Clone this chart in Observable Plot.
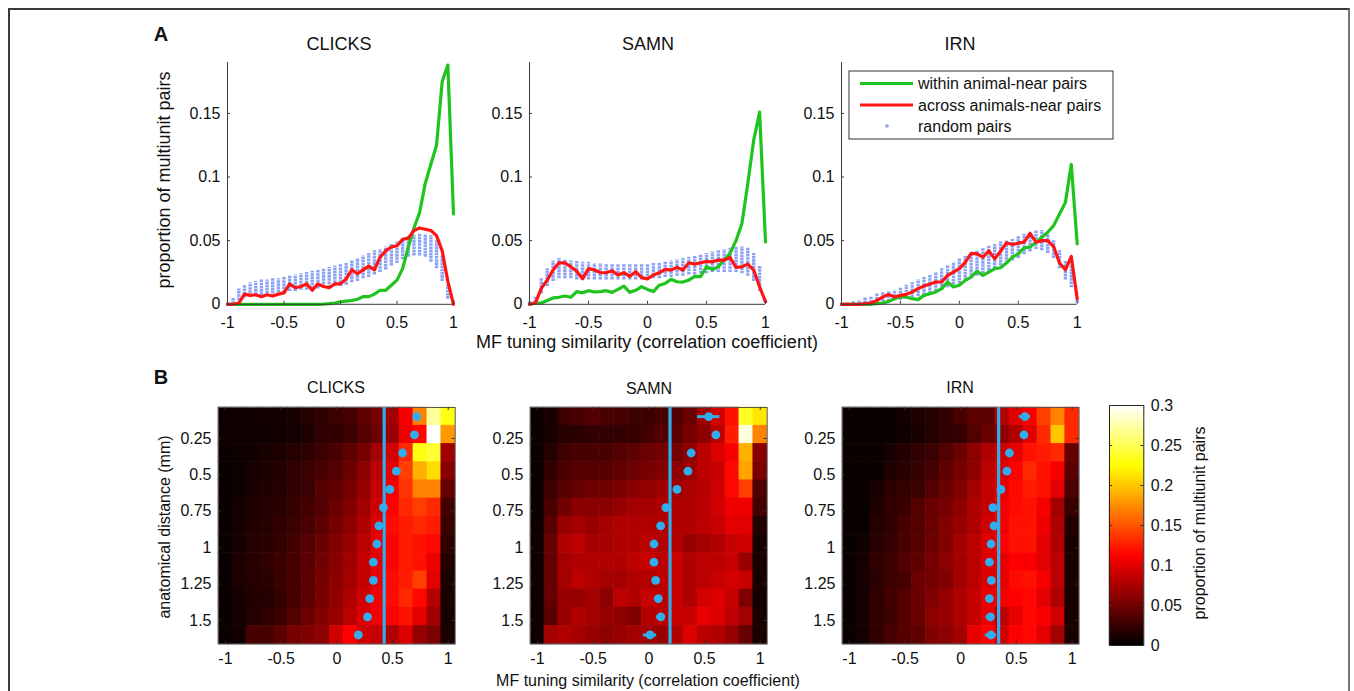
<!DOCTYPE html>
<html><head><meta charset="utf-8">
<script src="https://cdn.jsdelivr.net/npm/d3@7"></script>
<script src="https://cdn.jsdelivr.net/npm/@observablehq/plot@0.6"></script>
<style>
body{margin:0;background:#fff;}
#fig{position:relative;width:1354px;height:691px;overflow:hidden;font-family:"Liberation Sans",Arial,sans-serif;color:#111;background:#fff;}
#frame{position:absolute;left:8px;top:8px;width:1342px;height:700px;border:2px solid #3a3a3a;border-right-color:#777;box-sizing:border-box;}
.lbl{position:absolute;white-space:nowrap;transform:translate(-50%,-50%);line-height:1;}
.rot{transform:translate(-50%,-50%) rotate(-90deg);}
.panel{position:absolute;}
</style></head><body><div id="fig"><div id="frame"></div></div>
<script>
// ---------- DATA ----------
const xGrid = [-1,-0.95,-0.9,-0.85,-0.8,-0.75,-0.7,-0.65,-0.6,-0.55,-0.5,-0.45,-0.4,-0.35,-0.3,-0.25,-0.2,-0.15,-0.1,-0.05,0,0.05,0.1,0.15,0.2,0.25,0.3,0.35,0.4,0.45,0.5,0.55,0.6,0.65,0.7,0.75,0.8,0.85,0.9,0.95,1];

const clicksWithin = [0,0,0,0,0,0,0,0,0,0,0,0,0,0,0,0,0,0.0002,0.0005,0.001,0.002,0.0025,0.003,0.004,0.006,0.006,0.008,0.011,0.011,0.015,0.019,0.028,0.045,0.06,0.072,0.095,0.11,0.125,0.175,0.188,0.071];
const clicksAcross = [0,0,0.001,0.008,0.007,0.0075,0.006,0.0075,0.0065,0.008,0.009,0.016,0.013,0.014,0.016,0.011,0.016,0.014,0.013,0.016,0.016,0.02,0.027,0.024,0.027,0.03,0.027,0.037,0.042,0.045,0.046,0.051,0.052,0.058,0.06,0.059,0.058,0.054,0.042,0.018,0];
const clicksRandLo = [0,0,0.003,0.005,0.006,0.007,0.007,0.008,0.008,0.009,0.009,0.010,0.010,0.011,0.011,0.012,0.012,0.013,0.013,0.014,0.014,0.015,0.017,0.018,0.020,0.021,0.023,0.025,0.027,0.030,0.032,0.035,0.037,0.038,0.038,0.037,0.033,0.028,0.018,0.004,0];
const clicksRandHi = [0.001,0.005,0.012,0.015,0.017,0.018,0.019,0.019,0.020,0.020,0.021,0.022,0.023,0.024,0.025,0.026,0.027,0.028,0.029,0.030,0.031,0.032,0.034,0.036,0.038,0.040,0.042,0.043,0.045,0.047,0.049,0.051,0.053,0.054,0.055,0.055,0.054,0.050,0.038,0.015,0.003];

const samnWithin = [0,0.001,0.001,0.003,0.005,0.0055,0.0065,0.0055,0.01,0.009,0.0107,0.0097,0.01,0.0107,0.0094,0.0117,0.0143,0.0094,0.011,0.0138,0.0117,0.01,0.015,0.0164,0.0196,0.0177,0.0175,0.019,0.022,0.0217,0.0295,0.0274,0.0295,0.0347,0.04,0.05,0.0634,0.095,0.129,0.151,0.049];
const samnAcross = [0,0.001,0.0125,0.019,0.027,0.0326,0.0326,0.0295,0.026,0.02,0.028,0.027,0.025,0.0248,0.0263,0.023,0.0248,0.022,0.0256,0.021,0.02,0.023,0.0248,0.0274,0.0269,0.029,0.0269,0.0326,0.0316,0.0326,0.0337,0.0334,0.0347,0.0347,0.0368,0.029,0.0295,0.0316,0.0269,0.0138,0.002];
const samnRandLo = [0,0.001,0.008,0.014,0.018,0.020,0.020,0.020,0.019,0.019,0.019,0.019,0.019,0.019,0.019,0.019,0.019,0.019,0.019,0.019,0.019,0.020,0.020,0.021,0.021,0.022,0.022,0.023,0.023,0.024,0.024,0.025,0.025,0.025,0.025,0.025,0.024,0.022,0.018,0.010,0.001];
const samnRandHi = [0.002,0.006,0.020,0.028,0.034,0.036,0.035,0.034,0.034,0.033,0.033,0.032,0.032,0.031,0.031,0.031,0.031,0.031,0.031,0.031,0.031,0.032,0.032,0.033,0.034,0.035,0.036,0.037,0.038,0.039,0.040,0.041,0.042,0.043,0.044,0.045,0.045,0.044,0.040,0.030,0.004];

const irnWithin = [0,0,0,0,0,0,0.0005,0.001,0.0023,0.0044,0.006,0.0057,0.0044,0.0037,0.007,0.0083,0.0097,0.0123,0.0175,0.0136,0.0149,0.0188,0.0214,0.026,0.0227,0.0253,0.028,0.0287,0.0324,0.037,0.0397,0.0444,0.0449,0.0488,0.0527,0.0566,0.0618,0.071,0.08,0.11,0.0475];
const irnAcross = [0,0,0,0,0.0005,0.001,0.003,0.0057,0.0078,0.0057,0.007,0.0078,0.0097,0.0123,0.0143,0.016,0.0175,0.0175,0.0227,0.0253,0.028,0.033,0.04,0.0397,0.037,0.042,0.0357,0.0417,0.0483,0.047,0.048,0.0488,0.0558,0.0488,0.05,0.05,0.0454,0.0324,0.0271,0.0376,0.0044];
const irnRandLo = [0,0,0,0,0.0005,0.001,0.001,0.002,0.002,0.003,0.003,0.004,0.005,0.006,0.007,0.008,0.010,0.011,0.013,0.015,0.016,0.018,0.020,0.022,0.024,0.026,0.028,0.030,0.032,0.034,0.036,0.039,0.041,0.043,0.042,0.040,0.036,0.028,0.019,0.013,0.001];
const irnRandHi = [0.0005,0.001,0.002,0.003,0.005,0.006,0.008,0.009,0.010,0.011,0.013,0.015,0.017,0.019,0.021,0.023,0.025,0.028,0.030,0.033,0.036,0.038,0.040,0.042,0.044,0.046,0.047,0.049,0.050,0.051,0.053,0.055,0.056,0.058,0.058,0.055,0.050,0.042,0.034,0.030,0.004];

// heat map bins
const heatX = [-1,-0.875,-0.75,-0.625,-0.5,-0.375,-0.25,-0.125,0,0.125,0.25,0.375,0.5,0.625,0.75,0.875,1];
const distY = [0.1,0.225,0.35,0.475,0.6,0.725,0.85,0.975,1.1,1.225,1.35,1.475,1.6];

const clicksHeat = [
 [0.006,0.006,0.007,0.008,0.009,0.011,0.016,0.021,0.026,0.031,0.041,0.052,0.072,0.110,0.170,0.270,0.230],
 [0.006,0.006,0.006,0.007,0.008,0.009,0.013,0.021,0.021,0.026,0.036,0.047,0.067,0.105,0.115,0.300,0.180],
 [0.005,0.006,0.007,0.011,0.013,0.016,0.021,0.026,0.032,0.042,0.052,0.072,0.092,0.130,0.230,0.240,0.070],
 [0.005,0.006,0.011,0.013,0.016,0.021,0.026,0.032,0.037,0.047,0.062,0.082,0.102,0.140,0.190,0.210,0.060],
 [0.005,0.006,0.011,0.014,0.016,0.021,0.027,0.037,0.042,0.052,0.067,0.087,0.107,0.135,0.170,0.170,0.045],
 [0.005,0.009,0.013,0.016,0.019,0.023,0.030,0.037,0.047,0.057,0.072,0.092,0.112,0.130,0.140,0.130,0.030],
 [0.005,0.011,0.014,0.017,0.021,0.026,0.032,0.042,0.052,0.062,0.077,0.097,0.117,0.125,0.130,0.125,0.025],
 [0.005,0.011,0.016,0.019,0.023,0.029,0.037,0.047,0.057,0.067,0.082,0.102,0.112,0.125,0.120,0.115,0.020],
 [0.005,0.013,0.017,0.021,0.026,0.031,0.040,0.050,0.060,0.070,0.087,0.102,0.112,0.125,0.120,0.105,0.015],
 [0.005,0.013,0.016,0.019,0.026,0.031,0.042,0.052,0.062,0.072,0.087,0.102,0.117,0.125,0.140,0.100,0.012],
 [0.004,0.011,0.014,0.016,0.023,0.031,0.042,0.052,0.064,0.077,0.092,0.107,0.117,0.130,0.115,0.080,0.012],
 [0.004,0.011,0.016,0.021,0.026,0.036,0.047,0.057,0.067,0.082,0.097,0.107,0.112,0.120,0.100,0.070,0.010],
 [0.004,0.008,0.031,0.031,0.041,0.052,0.057,0.062,0.092,0.112,0.092,0.087,0.077,0.097,0.065,0.055,0.012]
];
const samnHeat = [
 [0.005,0.011,0.027,0.032,0.037,0.032,0.032,0.027,0.027,0.032,0.037,0.047,0.072,0.092,0.120,0.235,0.215],
 [0.005,0.011,0.017,0.020,0.022,0.022,0.022,0.024,0.030,0.037,0.042,0.052,0.062,0.082,0.125,0.290,0.170],
 [0.005,0.016,0.027,0.032,0.032,0.032,0.037,0.042,0.047,0.052,0.052,0.063,0.083,0.097,0.110,0.190,0.060],
 [0.005,0.022,0.033,0.038,0.038,0.038,0.043,0.048,0.053,0.058,0.063,0.068,0.083,0.088,0.115,0.185,0.055],
 [0.005,0.027,0.038,0.044,0.049,0.049,0.054,0.060,0.065,0.070,0.070,0.076,0.081,0.090,0.115,0.140,0.035],
 [0.005,0.033,0.050,0.061,0.061,0.061,0.066,0.072,0.072,0.077,0.077,0.077,0.082,0.092,0.105,0.105,0.030],
 [0.006,0.039,0.067,0.073,0.067,0.073,0.078,0.078,0.078,0.078,0.078,0.078,0.083,0.088,0.100,0.100,0.015],
 [0.006,0.044,0.078,0.083,0.073,0.073,0.078,0.078,0.083,0.078,0.078,0.067,0.073,0.078,0.088,0.092,0.010],
 [0.006,0.044,0.073,0.078,0.078,0.078,0.078,0.083,0.088,0.083,0.088,0.078,0.083,0.083,0.088,0.067,0.010],
 [0.006,0.044,0.073,0.083,0.078,0.073,0.073,0.078,0.078,0.083,0.088,0.078,0.083,0.088,0.093,0.088,0.010],
 [0.006,0.044,0.067,0.067,0.073,0.062,0.083,0.078,0.088,0.083,0.088,0.078,0.093,0.098,0.088,0.056,0.008],
 [0.006,0.039,0.067,0.078,0.073,0.067,0.062,0.056,0.078,0.083,0.088,0.088,0.103,0.098,0.083,0.072,0.010],
 [0.006,0.072,0.078,0.073,0.067,0.062,0.067,0.073,0.073,0.067,0.078,0.098,0.083,0.078,0.067,0.045,0.010]
];
const irnHeat = [
 [0.004,0.004,0.004,0.004,0.009,0.013,0.016,0.021,0.031,0.041,0.041,0.080,0.100,0.110,0.140,0.170,0.130],
 [0.004,0.004,0.004,0.005,0.007,0.011,0.016,0.021,0.023,0.036,0.046,0.062,0.077,0.100,0.130,0.200,0.130],
 [0.004,0.004,0.005,0.011,0.016,0.021,0.026,0.036,0.047,0.062,0.077,0.092,0.102,0.120,0.125,0.130,0.045],
 [0.004,0.004,0.005,0.013,0.019,0.023,0.031,0.042,0.052,0.062,0.082,0.097,0.112,0.130,0.120,0.110,0.040],
 [0.004,0.004,0.011,0.019,0.023,0.026,0.037,0.047,0.057,0.072,0.087,0.102,0.117,0.125,0.120,0.100,0.035],
 [0.004,0.004,0.013,0.021,0.026,0.037,0.047,0.052,0.062,0.077,0.087,0.107,0.117,0.120,0.110,0.072,0.025],
 [0.004,0.005,0.016,0.021,0.031,0.037,0.047,0.057,0.067,0.077,0.092,0.107,0.120,0.120,0.105,0.077,0.015],
 [0.004,0.007,0.016,0.023,0.031,0.037,0.047,0.057,0.072,0.082,0.097,0.112,0.120,0.120,0.100,0.077,0.012],
 [0.004,0.011,0.021,0.026,0.037,0.042,0.052,0.062,0.072,0.082,0.097,0.102,0.112,0.110,0.100,0.082,0.012],
 [0.004,0.011,0.019,0.026,0.031,0.047,0.052,0.057,0.072,0.082,0.097,0.102,0.117,0.120,0.110,0.082,0.012],
 [0.004,0.011,0.021,0.029,0.037,0.047,0.057,0.067,0.077,0.087,0.102,0.107,0.112,0.115,0.100,0.077,0.012],
 [0.004,0.009,0.021,0.026,0.037,0.047,0.062,0.067,0.077,0.087,0.102,0.082,0.102,0.115,0.110,0.092,0.012],
 [0.004,0.009,0.021,0.031,0.037,0.042,0.057,0.062,0.072,0.102,0.112,0.092,0.112,0.115,0.100,0.072,0.012]
];

// mean tuning similarity per distance bin, error half-widths, overall mean
const clicksMean = [0.717,0.697,0.59,0.534,0.476,0.418,0.377,0.36,0.328,0.328,0.295,0.275,0.193];
const clicksErr  = [0.02,0.015,0.015,0.015,0.015,0.015,0.015,0.015,0.015,0.015,0.015,0.015,0.015];
const clicksOverall = 0.425;
const samnMean = [0.537,0.602,0.38,0.351,0.253,0.153,0.106,0.046,0.046,0.061,0.085,0.108,0.011];
const samnErr  = [0.1,0.02,0.02,0.02,0.02,0.03,0.02,0.02,0.02,0.02,0.03,0.04,0.06];
const samnOverall = 0.19;
const irnMean = [0.576,0.567,0.437,0.414,0.36,0.289,0.298,0.271,0.257,0.274,0.257,0.266,0.271];
const irnErr  = [0.05,0.02,0.02,0.02,0.02,0.02,0.02,0.02,0.02,0.02,0.03,0.04,0.05];
const irnOverall = 0.34;

const topXTicks = [-1,-0.5,0,0.5,1];
const topYTicks = [0,0.05,0.1,0.15];
const heatYTicks = [0.25,0.5,0.75,1,1.25,1.5];
const cbTicks = [0,0.05,0.1,0.15,0.2,0.25,0.3];

// ---------- STYLE ----------
const FONT = '"Liberation Sans", Arial, sans-serif';
const GREEN = "#1fc41f", RED = "#ff1414", RANDBLUE = "#8ca2f4", MEANBLUE = "#2fadec", AXIS = "#3a3a3a";
const fmt = d => String(d);
const hotColor = {type: "linear", domain: [0, 0.1125, 0.225, 0.3], range: ["#000000", "#ff0000", "#ffff00", "#ffffff"], interpolate: "rgb", clamp: true};

const fig = document.getElementById("fig");
function place(el, left, top) {
  el.classList.add("panel");
  el.style.left = left + "px";
  el.style.top = top + "px";
  el.style.overflow = "visible";
  fig.appendChild(el);
}
function label(text, x, y, size, opts = {}) {
  const d = document.createElement("div");
  d.className = "lbl" + (opts.rot ? " rot" : "");
  d.textContent = text;
  d.style.left = x + "px"; d.style.top = y + "px";
  d.style.fontSize = size + "px";
  if (opts.bold) d.style.fontWeight = "bold";
  fig.appendChild(d);
}

// ---------- TOP ROW ----------
const TOP_Y0 = 303.5, TOP_Y1 = 61.7;
function topPanel(within, across, lo, hi, x0px, x1px) {
  const W = x1px - x0px, H = TOP_Y0 - TOP_Y1;
  const ml = 60, mr = 30, mt = 20, mb = 40;
  const rows = xGrid.map((x, i) => ({x, w: within[i], a: across[i], lo: lo[i], hi: hi[i]}));
  const svg = Plot.plot({
    width: ml + W + mr, height: mt + H + mb,
    marginLeft: ml, marginRight: mr, marginTop: mt, marginBottom: mb,
    style: {fontFamily: FONT, fontSize: "16px", color: "#111", background: "transparent", overflow: "visible"},
    x: {domain: [-1, 1], ticks: topXTicks, tickSize: 0, tickPadding: 12, tickFormat: fmt, label: null},
    y: {domain: [0, 0.19], ticks: topYTicks, tickSize: 0, tickPadding: 7, tickFormat: fmt, label: null},
    marks: [
      Plot.ruleX(rows, {x: "x", y1: "lo", y2: "hi", stroke: RANDBLUE, strokeWidth: 3.4, strokeDasharray: "2.6,0.6"}),
      Plot.line(rows, {x: "x", y: "w", stroke: GREEN, strokeWidth: 3.2}),
      Plot.line(rows, {x: "x", y: "a", stroke: RED, strokeWidth: 3.2}),
      Plot.ruleX([-1], {stroke: AXIS, strokeWidth: 1}),
      Plot.ruleY([0], {stroke: AXIS, strokeWidth: 1}),
      Plot.tickX(topXTicks, {x: d => d, insetTop: H - 3, stroke: AXIS}),
      Plot.tickY(topYTicks, {y: d => d, insetRight: W - 3, stroke: AXIS})
    ]
  });
  place(svg, x0px - ml, TOP_Y1 - mt);
}
topPanel(clicksWithin, clicksAcross, clicksRandLo, clicksRandHi, 227.3, 453.3);
topPanel(samnWithin, samnAcross, samnRandLo, samnRandHi, 529, 765);
topPanel(irnWithin, irnAcross, irnRandLo, irnRandHi, 841, 1076.7);

// ---------- BOTTOM ROW ----------
const HEAT_Y0 = 406.7, HEAT_Y1 = 643.3;
function heatPanel(heat, means, errs, overall, x0px, x1px) {
  const W = x1px - x0px, H = HEAT_Y1 - HEAT_Y0;
  const ml = 60, mr = 10, mt = 10, mb = 40;
  const hw = (heatX[1] - heatX[0]) / 2, hh = (distY[1] - distY[0]) / 2;
  const cells = [];
  heat.forEach((row, r) => row.forEach((v, c) => cells.push({x1: heatX[c] - hw, x2: heatX[c] + hw, y1: distY[r] - hh, y2: distY[r] + hh, v})));
  const pts = distY.map((y, i) => ({y, m: means[i], e: errs[i]}));
  const svg = Plot.plot({
    width: ml + W + mr, height: mt + H + mb,
    marginLeft: ml, marginRight: mr, marginTop: mt, marginBottom: mb,
    style: {fontFamily: FONT, fontSize: "16px", color: "#111", background: "transparent", overflow: "visible"},
    x: {domain: [heatX[0] - hw, heatX[heatX.length - 1] + hw], ticks: topXTicks, tickSize: 0, tickPadding: 9, tickFormat: fmt, label: null},
    y: {domain: [distY[0] - hh, distY[distY.length - 1] + hh], reverse: true, ticks: heatYTicks, tickSize: 0, tickPadding: 7, tickFormat: fmt, label: null},
    color: hotColor,
    marks: [
      Plot.rect(cells, {x1: "x1", x2: "x2", y1: "y1", y2: "y2", fill: "v", inset: -0.3}),
      Plot.frame({stroke: "#555", strokeWidth: 1}),
      Plot.tickX(topXTicks, {x: d => d, insetTop: H - 3, stroke: "#333"}),
      Plot.tickX(topXTicks, {x: d => d, insetBottom: H - 3, stroke: "#333"}),
      Plot.tickY(heatYTicks, {y: d => d, insetLeft: W - 3, stroke: "#333"}),
      Plot.tickY(heatYTicks, {y: d => d, insetRight: W - 3, stroke: "#333"}),
      Plot.ruleX([overall], {stroke: MEANBLUE, strokeWidth: 3.2}),
      Plot.ruleY(pts, {y: "y", x1: d => d.m - d.e, x2: d => d.m + d.e, stroke: MEANBLUE, strokeWidth: 3}),
      Plot.dot(pts, {x: "m", y: "y", r: 4.4, fill: MEANBLUE, stroke: null})
    ]
  });
  place(svg, x0px - ml, HEAT_Y0 - mt);
}
heatPanel(clicksHeat, clicksMean, clicksErr, clicksOverall, 218.3, 455);
heatPanel(samnHeat, samnMean, samnErr, samnOverall, 530, 766.7);
heatPanel(irnHeat, irnMean, irnErr, irnOverall, 841.7, 1078.3);

// ---------- COLORBAR ----------
(function () {
  const x0 = 1109, x1 = 1143.3, y0 = 405, y1 = 645;
  const W = x1 - x0, H = y1 - y0;
  const ml = 10, mr = 50, mt = 10, mb = 10;
  const step = 0.0025;
  const ramp = d3.range(0, 0.3, step);
  const svg = Plot.plot({
    width: ml + W + mr, height: mt + H + mb,
    marginLeft: ml, marginRight: mr, marginTop: mt, marginBottom: mb,
    style: {fontFamily: FONT, fontSize: "16px", color: "#111", background: "transparent", overflow: "visible"},
    y: {domain: [0, 0.3], ticks: cbTicks, tickSize: 0, tickPadding: 7, tickFormat: fmt, label: null, axis: "right"},
    color: hotColor,
    marks: [
      Plot.rect(ramp, {y1: d => d, y2: d => d + step, fill: d => d + step / 2, inset: -0.2}),
      Plot.frame({stroke: "#222", strokeWidth: 1}),
      Plot.tickY(cbTicks, {y: d => d, insetLeft: W - 3, stroke: "#333"}),
      Plot.tickY(cbTicks, {y: d => d, insetRight: W - 3, stroke: "#333"})
    ]
  });
  place(svg, x0 - ml, y0 - mt);
})();

// ---------- LEGEND (top right panel) ----------
(function () {
  const ns = "http://www.w3.org/2000/svg";
  const svg = document.createElementNS(ns, "svg");
  svg.setAttribute("width", 266); svg.setAttribute("height", 70);
  svg.style.position = "absolute"; svg.style.left = "848px"; svg.style.top = "70px";
  svg.style.fontFamily = FONT;
  svg.innerHTML = `
    <rect x="1" y="1" width="264" height="68" fill="#fff" stroke="#333" stroke-width="1"/>
    <line x1="12" x2="65" y1="13.5" y2="13.5" stroke="${GREEN}" stroke-width="3.2"/>
    <line x1="12" x2="65" y1="35" y2="35" stroke="${RED}" stroke-width="3.2"/>
    <circle cx="39" cy="56" r="1.8" fill="${RANDBLUE}"/>
    <text x="70" y="13.5" dy="0.35em" font-size="16" fill="#111">within animal-near pairs</text>
    <text x="70" y="35" dy="0.35em" font-size="16" fill="#111">across animals-near pairs</text>
    <text x="70" y="56" dy="0.35em" font-size="16" fill="#111">random pairs</text>`;
  fig.appendChild(svg);
})();

// ---------- TEXT ----------
label("A", 161, 34, 20, {bold: true});
label("B", 161, 377, 20, {bold: true});
label("CLICKS", 339, 44, 18);
label("SAMN", 648, 44, 18);
label("IRN", 960, 44, 18);
label("proportion of multiunit pairs", 164, 180, 18, {rot: true});
label("MF tuning similarity (correlation coefficient)", 647, 342, 18);
label("CLICKS", 336, 388, 16);
label("SAMN", 649, 389, 16);
label("IRN", 960, 388, 16);
label("anatomical distance (mm)", 165, 527, 16, {rot: true});
label("MF tuning similarity (correlation coefficient)", 648, 681, 16);
label("proportion of multiunit pairs", 1200, 523, 16, {rot: true});
</script></body></html>
